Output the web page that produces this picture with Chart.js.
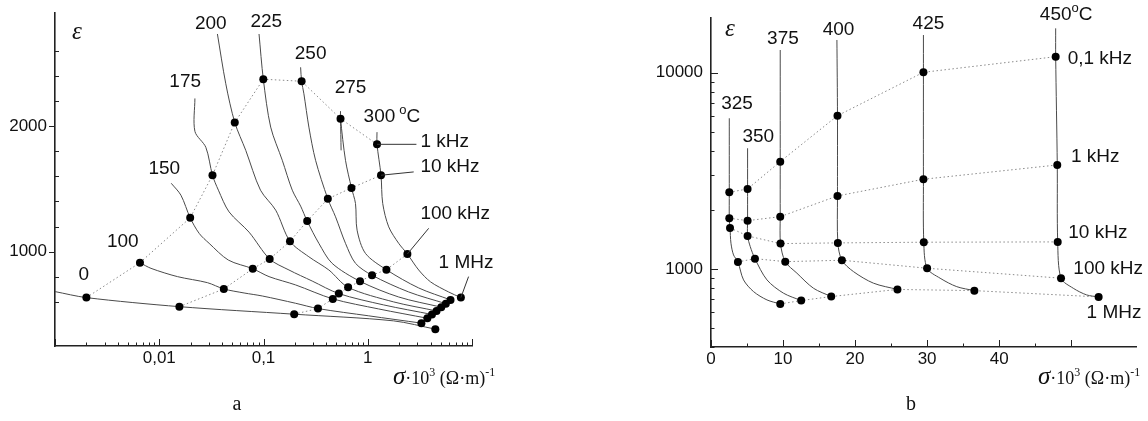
<!DOCTYPE html>
<html>
<head>
<meta charset="utf-8">
<script src="https://cdn.jsdelivr.net/npm/chart.js@4.4.1/dist/chart.umd.min.js"></script>
<style>
  html, body { margin: 0; padding: 0; background: #fff; }
  #wrap { position: relative; width: 1148px; height: 421px; }
  .panel { position: absolute; top: 0; width: 574px; height: 421px; }
</style>
</head>
<body>
<div id="wrap">
  <div class="panel" style="left:0"><canvas id="chartA"></canvas></div>
  <div class="panel" style="left:574px"><canvas id="chartB"></canvas></div>
</div>
<script>
// ---- panel a : eps vs sigma*10^3 (log), one curve per temperature ----
const tempsA = ['0', '100', '150', '175', '200', '225', '250', '275', '300'];
const curveA0   = [[0.001, 683], [0.002, 635], [0.0156, 563], [0.197, 503], [1.77, 450], [4.45, 384]];
const curveA100 = [[0.00653, 913], [0.00833, 868], [0.01497, 802], [0.02899, 754], [0.0416, 704], [0.0651, 672],
                   [0.0974, 648], [0.2032, 590], [0.333, 548], [1.022, 490], [3.27, 432]];
const curveA150 = [[0.01303, 1545], [0.01614, 1450], [0.0198, 1270], [0.02416, 1146], [0.03009, 1067], [0.046, 934],
                   [0.0789, 865], [0.113, 802], [0.2032, 736], [0.462, 625], [1.27, 545], [3.73, 471]];
const curveA175 = [[0.02198, 2220], [0.02198, 1958], [0.02799, 1831], [0.0324, 1609], [0.03694, 1490], [0.04677, 1317],
                   [0.07266, 1156], [0.1146, 942], [0.1754, 855], [0.2931, 767], [0.528, 667], [1.42, 577], [4.13, 501]];
const curveA200 = [[0.03613, 2733], [0.04347, 2337], [0.053, 2029], [0.06757, 1807], [0.09358, 1490], [0.1309, 1331],
                   [0.1795, 1083], [0.2723, 960], [0.4235, 855], [0.648, 717], [1.77, 601], [4.57, 529]];
const curveA225 = [[0.0906, 2733], [0.0996, 2373], [0.1172, 1992], [0.1514, 1728], [0.1888, 1490], [0.2271, 1363],
                   [0.2624, 1244], [0.3396, 1067], [0.455, 908], [0.843, 765], [1.98, 640], [5.07, 559]];
const curveA250 = [[0.227, 2468], [0.232, 2357], [0.2441, 2257], [0.2725, 1992], [0.3158, 1728], [0.414, 1421],
                   [0.491, 1278], [0.6116, 1067], [0.7628, 908], [1.1, 813], [2.47, 680], [5.61, 587]];
const curveA275 = [[0.548, 2119], [0.548, 2059], [0.6116, 1728], [0.698, 1508], [0.7628, 1384], [0.7901, 1172],
                   [0.9506, 987], [1.51, 857], [3.08, 712], [6.22, 617]];
const branchA275 = [[0.548, 2059], [0.5552, 1807]];
const curveA300 = [[1.227, 1952], [1.227, 1855], [1.34, 1609], [1.392, 1384], [1.589, 1198], [1.98, 1067],
                   [2.4, 982], [3.08, 855], [4.008, 760], [5.96, 680], [7.82, 635]];
// points at fixed frequency, 0 ... 300 C
const a1kHz   = [[0.002, 635], [0.00653, 913], [0.0198, 1270], [0.0324, 1609], [0.053, 2029], [0.0996, 2373], [0.232, 2357], [0.548, 2059], [1.227, 1855]];
const a10kHz  = [[0.0156, 563], [0.0416, 704], [0.0789, 865], [0.1146, 942], [0.1795, 1083], [0.2624, 1244], [0.414, 1421], [0.698, 1508], [1.34, 1609]];
const a100kHz = [[0.197, 503], [0.333, 548], [0.462, 625], [0.528, 667], [0.648, 717], [0.843, 765], [1.1, 813], [1.51, 857], [2.4, 982]];
const a1MHz   = [[4.45, 384], [3.27, 432], [3.73, 471], [4.13, 501], [4.57, 529], [5.07, 559], [5.61, 587], [6.22, 617], [7.82, 635]];
const freqA = ['1 kHz', '10 kHz', '100 kHz', '1 MHz'];
const xTickValsA = [0.01, 0.1, 1];
const xTickTextA = ['0,01', '0,1', '1'];
const yTickValsA = [1000, 2000];

// ---- panel b : eps (log) vs sigma*10^3 ----
const tempsB = ['325', '350', '375', '400', '425', '450'];
const curveB325 = [[2.54, 5858], [2.54, 2458], [2.54, 1813], [2.64, 1618], [2.77, 1352], [3.13, 1178], [3.74, 1085],
                   [4.52, 879], [5.91, 766], [7.77, 695], [9.61, 663]];
const curveB350 = [[5.08, 4120], [5.08, 2556], [5.08, 1762], [5.08, 1473], [5.45, 1299], [6.1, 1128], [7.77, 879],
                   [10.07, 752], [12.52, 690]];
const curveB375 = [[9.61, 13050], [9.61, 3522], [9.61, 1846], [9.65, 1346], [10.31, 1089], [11.93, 951], [14.23, 797], [16.69, 723]];
const curveB400 = [[17.48, 14680], [17.56, 6039], [17.56, 2355], [17.61, 1357], [18.17, 1107], [19.78, 969], [22.55, 846], [25.88, 786]];
const curveB425 = [[29.49, 15560], [29.49, 10046], [29.49, 2864], [29.54, 1368], [30.0, 1008], [31.8, 897], [34.12, 812], [36.56, 775]];
const curveB450 = [[47.85, 16830], [47.85, 12066], [48.07, 3387], [48.13, 1373], [48.59, 897], [50.29, 797], [52.15, 737], [53.81, 720]];
const b01kHz  = [[2.54, 2458], [5.08, 2556], [9.61, 3522], [17.56, 6039], [29.49, 10046], [47.85, 12066]];
const b1kHz   = [[2.54, 1813], [5.08, 1762], [9.61, 1846], [17.56, 2355], [29.49, 2864], [48.07, 3387]];
const b10kHz  = [[2.64, 1618], [5.08, 1473], [9.65, 1346], [17.61, 1357], [29.54, 1368], [48.13, 1373]];
const b100kHz = [[3.74, 1085], [6.1, 1128], [10.31, 1089], [18.17, 1107], [30.0, 1008], [48.59, 897]];
const b1MHz   = [[9.61, 663], [12.52, 690], [16.69, 723], [25.88, 786], [36.56, 775], [53.81, 720]];
const freqB = ['0,1 kHz', '1 kHz', '10 kHz', '100 kHz', '1 MHz'];
const xTickValsB = [0, 10, 20, 30, 40];
const yTickValsB = [1000, 10000];

const SANS = '"Liberation Sans", Arial, sans-serif';
const SERIF = '"Liberation Serif", "Times New Roman", serif';

const xy = pts => pts.map(([x, y]) => ({ x, y }));
const near = (v, list) => list.some(t => Math.abs(v - t) < 1e-9 * Math.max(1, Math.abs(t)));

function curveSet(pts) {
  return { data: xy(pts), showLine: true, borderColor: '#4a4a4a', borderWidth: 1,
           pointRadius: 0, tension: 0.3, order: 2 };
}
function isoSet(pts, line) {
  return { data: xy(pts), showLine: line, borderColor: '#8a8a8a', borderWidth: 1, borderDash: [1.5, 2.5],
           pointRadius: 4, pointBackgroundColor: '#000', pointBorderWidth: 0, tension: 0, order: 1 };
}

// log minor/major check
function logMant(v) {
  const e = Math.floor(Math.log10(v) + 1e-9);
  return v / Math.pow(10, e);
}

function put(ctx, s, x, y, font, align) {
  ctx.font = font;
  ctx.textAlign = align || 'center';
  ctx.textBaseline = 'middle';
  ctx.fillText(s, x, y);
}

// sigma*10^3 (Ohm*m)^-1 title, left end + baseline
function sigmaTitle(ctx, x, y) {
  const parts = [
    ['σ', 'italic 25px ' + SERIF, 0],
    ['·10', '18px ' + SERIF, 0],
    ['3', '12px ' + SERIF, -8],
    [' (Ω·m)', '18px ' + SERIF, 0],
    ['-1', '12px ' + SERIF, -8]
  ];
  ctx.textAlign = 'left';
  ctx.textBaseline = 'alphabetic';
  parts.forEach(([s, f, dy]) => {
    ctx.font = f;
    ctx.fillText(s, x, y + dy);
    x += ctx.measureText(s).width;
  });
}

// number + superscript o + C
function degLabel(ctx, num, cx, cy, gap) {
  ctx.font = '19px ' + SANS;
  const w = ctx.measureText(num).width;
  const x0 = cx - w / 2;
  put(ctx, num, x0, cy, '19px ' + SANS, 'left');
  put(ctx, 'o', x0 + w + gap, cy - 7, '13px ' + SANS, 'left');
  ctx.font = '13px ' + SANS;
  const wo = ctx.measureText('o').width;
  put(ctx, 'C', x0 + w + gap + wo, cy, '19px ' + SANS, 'left');
}

function decor(cfg) {
  return {
    id: 'decor',
    afterDatasetsDraw(chart) {
      const ctx = chart.ctx, xs = chart.scales.x, ys = chart.scales.y, area = chart.chartArea;
      const px = p => [xs.getPixelForValue(p[0]), ys.getPixelForValue(p[1])];
      ctx.save();
      // tick marks
      ctx.strokeStyle = '#222';
      ctx.lineWidth = 1;
      ctx.beginPath();
      xs.ticks.forEach(t => {
        const len = cfg.xTick(t.value);
        if (!len) return;
        const x = Math.round(xs.getPixelForValue(t.value)) + 0.5;
        ctx.moveTo(x, area.bottom);
        ctx.lineTo(x, area.bottom - len);
      });
      ys.ticks.forEach(t => {
        const len = cfg.yTick(t.value);
        if (!len) return;
        const y = Math.round(ys.getPixelForValue(t.value)) + 0.5;
        ctx.moveTo(area.left, y);
        ctx.lineTo(area.left + len, y);
      });
      ctx.stroke();

      ctx.fillStyle = '#111';
      // temperature labels over the curve ends
      cfg.temps.forEach((t, i) => {
        const [x, y] = px(cfg.curves[i][0]);
        const [dx, dy] = cfg.tempOffsets[i];
        if (i === cfg.temps.length - 1) degLabel(ctx, t, x + dx, y + dy, cfg.degGap);
        else put(ctx, t, x + dx, y + dy, '19px ' + SANS);
      });
      // frequency labels (with leader lines on panel a)
      ctx.strokeStyle = '#333';
      ctx.lineWidth = 1;
      cfg.freqs.forEach((f, i) => {
        const set = cfg.isos[i];
        const [x, y] = px(set[set.length - 1]);
        const o = cfg.freqOffsets[i];
        if (o.lead) {
          ctx.beginPath();
          ctx.moveTo(x, y);
          ctx.lineTo(x + o.lead[0], y + o.lead[1]);
          ctx.stroke();
        }
        put(ctx, f, x + o.text[0], y + o.text[1], '19px ' + SANS, 'left');
      });
      // axis titles and panel letter
      put(ctx, 'ε', cfg.eps[0], cfg.eps[1], 'italic 25px ' + SERIF);
      sigmaTitle(ctx, cfg.sigma[0], cfg.sigma[1]);
      put(ctx, cfg.letter, cfg.letterPos[0], cfg.letterPos[1], '20px ' + SERIF);
      ctx.restore();
    }
  };
}

function baseOptions(pad) {
  return {
    responsive: true,
    maintainAspectRatio: false,
    animation: false,
    events: [],
    layout: { padding: pad },
    plugins: { legend: { display: false }, tooltip: { enabled: false } }
  };
}
const axisBorder = { display: true, color: '#222', width: 1.6 };
const tickFont = { family: SANS, size: 17 };
// fixed axis boxes so the plot area sits where it does in the figure
const fixBox = (w, h) => s => {
  if (w) s.width = w;
  if (h) s.height = h;
  s.paddingTop = s.paddingBottom = s.paddingLeft = s.paddingRight = 0;
};

// ---------- chart a ----------
const optsA = baseOptions({ left: 0, top: 13, right: 102, bottom: 0 });
optsA.scales = {
  x: {
    type: 'logarithmic', min: 0.001, max: 10, position: 'bottom',
    grid: { display: false, drawTicks: false }, border: axisBorder,
    ticks: {
      autoSkip: false, maxRotation: 0, padding: 2, color: '#111', font: tickFont,
      callback: v => { const i = xTickValsA.findIndex(t => near(v, [t])); return i < 0 ? '' : xTickTextA[i]; }
    },
    afterFit: fixBox(0, 75)
  },
  y: {
    type: 'linear', min: 250, max: 2900,
    grid: { display: false, drawTicks: false }, border: axisBorder,
    ticks: {
      stepSize: 200, autoSkip: false, padding: 8, color: '#111', font: tickFont,
      callback: v => near(v, yTickValsA) ? String(v) : ''
    },
    afterFit: fixBox(55, 0)
  }
};
const curvesA = [curveA0, curveA100, curveA150, curveA175, curveA200, curveA225, curveA250, curveA275, curveA300];
new Chart(document.getElementById('chartA'), {
  type: 'scatter',
  data: {
    datasets: [
      isoSet(a1kHz, true), isoSet(a10kHz, true), isoSet(a100kHz, true), isoSet(a1MHz, false),
      ...curvesA.map(curveSet), curveSet(branchA275)
    ]
  },
  options: optsA,
  plugins: [decor({
    xTick: v => { const m = logMant(v); return Math.abs(m - 1) < 1e-6 ? 7 : (Math.abs(m - Math.round(m)) < 1e-6 ? 3.5 : 0); },
    yTick: v => v % 1000 === 0 ? -6 : (v % 200 === 0 ? 4 : 0),
    temps: tempsA, curves: curvesA,
    tempOffsets: [[28.8, -16.7], [-17.2, -20.7], [-7, -14.7], [-9.7, -16.3], [-6.6, -10.6], [7.3, -12.6], [10, -13.4], [10, -23.4], [2.4, -15]],
    degGap: 4,
    freqs: freqA, isos: [a1kHz, a10kHz, a100kHz, a1MHz],
    freqOffsets: [
      { lead: [39.4, 0], text: [43.4, -2.3] },
      { lead: [32.7, -3.3], text: [39.4, -8.3] },
      { lead: [21.3, -25.7], text: [13, -40.7] },
      { lead: [7.7, -21], text: [-22.3, -34.4] }
    ],
    eps: [77, 32], sigma: [393, 384], letter: 'a', letterPos: [237, 405]
  })]
});

// ---------- chart b ----------
const optsB = baseOptions({ left: 0, top: 18, right: 12, bottom: 0 });
optsB.scales = {
  x: {
    type: 'linear', min: 0, max: 59, position: 'bottom',
    grid: { display: false, drawTicks: false }, border: axisBorder,
    ticks: {
      stepSize: 5, autoSkip: false, maxRotation: 0, padding: 2, color: '#111', font: tickFont,
      callback: v => near(v, xTickValsB) ? String(v) : ''
    },
    afterFit: fixBox(0, 74)
  },
  y: {
    type: 'logarithmic', min: 400, max: 19000,
    grid: { display: false, drawTicks: false }, border: axisBorder,
    ticks: {
      autoSkip: false, padding: 8, color: '#111', font: tickFont,
      callback: v => near(v, yTickValsB) ? String(v) : ''
    },
    afterFit: fixBox(137, 0)
  }
};
const curvesB = [curveB325, curveB350, curveB375, curveB400, curveB425, curveB450];
new Chart(document.getElementById('chartB'), {
  type: 'scatter',
  data: {
    datasets: [
      isoSet(b01kHz, true), isoSet(b1kHz, true), isoSet(b10kHz, true), isoSet(b100kHz, true), isoSet(b1MHz, true),
      ...curvesB.map(curveSet)
    ]
  },
  options: optsB,
  plugins: [decor({
    xTick: v => v % 10 === 0 ? 7 : (v % 5 === 0 ? 3.5 : 0),
    yTick: v => { const m = logMant(v); return Math.abs(m - 1) < 1e-6 ? 7 : (Math.abs(m - Math.round(m)) < 1e-6 ? 3.5 : 0); },
    temps: tempsB, curves: curvesB,
    tempOffsets: [[7.7, -14.3], [10.7, -11.6], [2.7, -11.7], [1.6, -10.7], [5, -11.7], [0, -13.3]],
    degGap: 0,
    freqs: freqB, isos: [b01kHz, b1kHz, b10kHz, b100kHz, b1MHz],
    freqOffsets: [
      { text: [12, 1.6] }, { text: [13.7, -8.3] }, { text: [10.6, -8.7] }, { text: [12.3, -9.3] }, { text: [-12, 16.3] }
    ],
    eps: [156, 29], sigma: [464, 384], letter: 'b', letterPos: [337, 405]
  })]
});
</script>
</body>
</html>
